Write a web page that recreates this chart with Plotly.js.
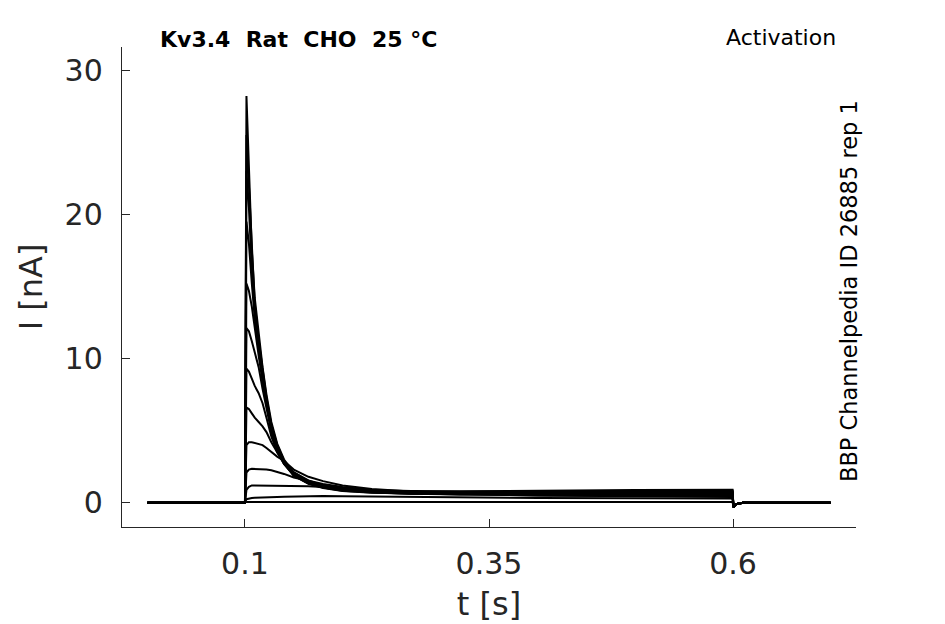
<!DOCTYPE html>
<html>
<head>
<meta charset="utf-8">
<script src="https://cdn.plot.ly/plotly-3.0.1.min.js"></script>
<style>
  body { margin: 0; background: #fff; }
  #plot { width: 945px; height: 624px; }
</style>
</head>
<body>
<div id="plot"></div>
<script>
// sample times [s]
const time = [0, 0.05, 0.0995, 0.1,
  0.1015, 0.104, 0.107, 0.11, 0.114, 0.118, 0.122, 0.127, 0.133, 0.14,
  0.15, 0.165, 0.18, 0.2, 0.23, 0.27, 0.32, 0.4, 0.5, 0.5995,
  0.6005, 0.603, 0.61, 0.7];

// holding level before the step, and the tail after it [nA]
const preStep = [0, 0.02, 0, 0];
const postStep = [-0.3, -0.1, 0, 0];

// current during the step, one array per sweep [nA]
const sweep1 = [28.2, 23.5, 17.5, 14.2, 11.6, 9.4, 7.5, 5.6, 4.1, 3.0, 2.1, 1.5, 1.2, 1.0, 0.88, 0.82, 0.8, 0.85, 0.88, 0.9];
const sweep2 = [25.5, 22, 17, 13.8, 11.3, 9.1, 7.3, 5.4, 4.0, 2.9, 2.0, 1.45, 1.15, 0.95, 0.82, 0.77, 0.76, 0.8, 0.83, 0.85];
const sweep3 = [23, 20.5, 16.2, 13.3, 11.0, 8.9, 7.1, 5.3, 3.9, 2.8, 1.95, 1.4, 1.1, 0.9, 0.78, 0.72, 0.71, 0.74, 0.78, 0.8];
const sweep4 = [19.5, 18, 15.2, 12.8, 10.7, 8.7, 7.0, 5.2, 3.8, 2.75, 1.9, 1.35, 1.05, 0.86, 0.74, 0.68, 0.67, 0.7, 0.73, 0.75];
const sweep5 = [15.2, 14.7, 13.6, 12.0, 10.2, 8.4, 6.8, 5.1, 3.7, 2.7, 1.88, 1.32, 1.02, 0.82, 0.7, 0.64, 0.63, 0.65, 0.68, 0.7];
const sweep6 = [12.1, 11.9, 11.2, 10.5, 9.4, 7.9, 6.5, 4.9, 3.6, 2.7, 1.9, 1.35, 1.05, 0.84, 0.71, 0.63, 0.6, 0.6, 0.63, 0.65];
const sweep7 = [9.3, 9.1, 8.6, 8.1, 7.6, 6.9, 5.9, 4.6, 3.5, 2.7, 2.0, 1.45, 1.12, 0.9, 0.73, 0.63, 0.58, 0.57, 0.58, 0.6];
const sweep8 = [6.6, 6.5, 6.2, 5.9, 5.6, 5.3, 4.9, 4.2, 3.5, 2.8, 2.1, 1.55, 1.2, 0.95, 0.78, 0.66, 0.58, 0.55, 0.55, 0.55];
const sweep9 = [4.0, 4.2, 4.2, 4.15, 4.1, 4.0, 3.8, 3.5, 3.2, 2.9, 2.3, 1.8, 1.5, 1.2, 0.95, 0.78, 0.66, 0.56, 0.52, 0.5];
const sweep10 = [2.1, 2.3, 2.35, 2.35, 2.35, 2.35, 2.3, 2.25, 2.15, 2.0, 1.75, 1.5, 1.3, 1.1, 0.88, 0.72, 0.6, 0.5, 0.47, 0.45];
const sweep11 = [0.9, 1.1, 1.2, 1.2, 1.2, 1.2, 1.2, 1.2, 1.2, 1.2, 1.18, 1.15, 1.1, 1.0, 0.88, 0.75, 0.62, 0.5, 0.43, 0.4];
const sweep12 = [0.25, 0.3, 0.33, 0.35, 0.35, 0.36, 0.37, 0.38, 0.4, 0.42, 0.44, 0.46, 0.47, 0.46, 0.44, 0.4, 0.36, 0.33, 0.31, 0.3];
const sweep13 = [0.05, 0.06, 0.06, 0.06, 0.07, 0.07, 0.07, 0.07, 0.08, 0.08, 0.08, 0.08, 0.08, 0.08, 0.07, 0.07, 0.06, 0.06, 0.05, 0.05];

const xTickVals = [0.1, 0.35, 0.6];
const xTickText = ['0.1', '0.35', '0.6'];
const yTickVals = [0, 10, 20, 30];

const sweeps = [sweep1, sweep2, sweep3, sweep4, sweep5, sweep6, sweep7,
  sweep8, sweep9, sweep10, sweep11, sweep12, sweep13];

const data = sweeps.map((s, i) => ({
  x: time,
  y: preStep.concat(s, postStep),
  type: 'scatter',
  mode: 'lines',
  name: 'sweep ' + (i + 1),
  line: { color: '#000000', width: 2 },
  hoverinfo: 'skip',
}));

const axisColor = '#262626';
const font = 'DejaVu Sans, sans-serif';

const layout = {
  width: 945,
  height: 624,
  margin: { l: 122, r: 89, t: 47, b: 97, autoexpand: false },
  paper_bgcolor: '#ffffff',
  plot_bgcolor: '#ffffff',
  showlegend: false,
  font: { family: font, color: axisColor },
  xaxis: {
    range: [-0.026, 0.726],
    tickvals: xTickVals,
    ticktext: xTickText,
    ticks: 'inside',
    ticklen: 8,
    tickcolor: axisColor,
    tickfont: { size: 30, color: axisColor, family: font },
    ticklabelstandoff: 10,
    showline: true,
    linecolor: axisColor,
    linewidth: 1.2,
    showgrid: false,
    zeroline: false,
    title: { text: 't [s]', font: { size: 32, color: axisColor, family: font }, standoff: 12 },
  },
  yaxis: {
    range: [-1.68, 31.6],
    tickvals: yTickVals,
    ticks: 'inside',
    ticklen: 8,
    tickcolor: axisColor,
    tickfont: { size: 30, color: axisColor, family: font },
    ticklabelstandoff: 12,
    showline: true,
    linecolor: axisColor,
    linewidth: 1.2,
    showgrid: false,
    zeroline: false,
    title: { text: 'I [nA]', font: { size: 32, color: axisColor, family: font }, standoff: 12 },
  },
  annotations: [
    {
      text: '<b>Kv3.4\u00a0\u00a0Rat\u00a0\u00a0CHO\u00a0\u00a025\u00a0°C</b>',
      xref: 'paper', yref: 'paper', x: 0.049, y: 1.0146,
      xanchor: 'left', yanchor: 'middle', showarrow: false,
      font: { size: 22, color: '#000000', family: font },
    },
    {
      text: 'Activation',
      xref: 'paper', yref: 'paper', x: 0.9755, y: 1.019,
      xanchor: 'right', yanchor: 'middle', showarrow: false,
      font: { size: 22, color: '#000000', family: font },
    },
    {
      text: 'BBP Channelpedia ID 26885 rep 1',
      xref: 'paper', yref: 'paper', x: 0.9905, y: 0.4917,
      xanchor: 'center', yanchor: 'middle', showarrow: false, textangle: -90,
      font: { size: 22.5, color: '#000000', family: font },
    },
  ],
};

Plotly.newPlot('plot', data, layout, { staticPlot: true, displayModeBar: false });
</script>
</body>
</html>
